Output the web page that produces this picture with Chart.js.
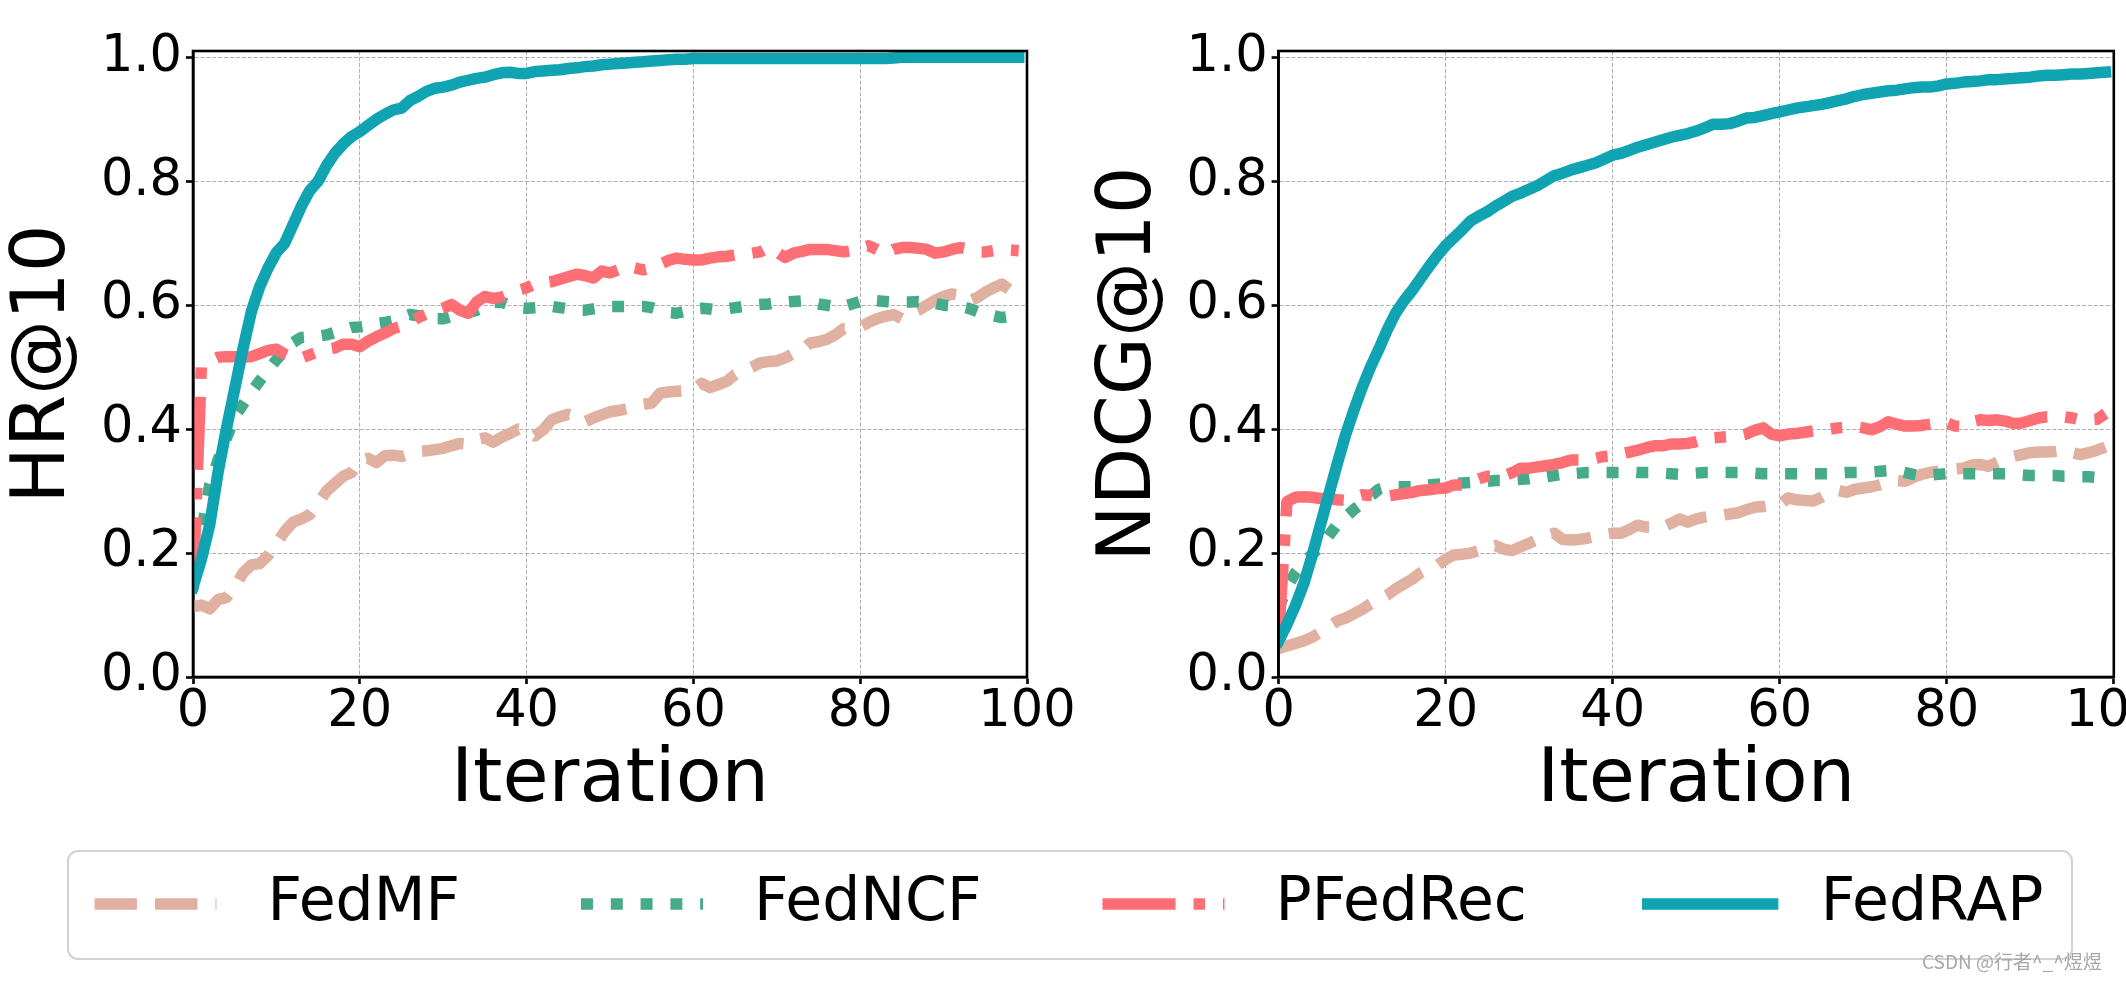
<!DOCTYPE html>
<html>
<head>
<meta charset="utf-8">
<script src="https://cdn.jsdelivr.net/npm/chart.js@4/dist/chart.umd.min.js"></script>
<style>
html, body { margin: 0; padding: 0; width: 2126px; height: 982px; overflow: hidden; background: #ffffff; }
.pane { position: absolute; }
#wm { position: absolute; left: 1922px; top: 948px; font-family: "Noto Sans CJK SC", sans-serif; font-size: 19px; line-height: 26px; color: #a8a8a8; white-space: nowrap; }
</style>
</head>
<body>
<div class="pane" style="left:0px;top:0px;"><canvas id="hrChart" width="1120" height="840"></canvas></div>
<div class="pane" style="left:1063px;top:0px;"><canvas id="ndcgChart" width="1063" height="840"></canvas></div>
<div class="pane" style="left:-96px;top:753px;"><canvas id="legendChart" width="2330" height="700"></canvas></div>
<div id="wm">CSDN @行者^_^煜煜</div>
<script>
// ---------------- data ----------------
const seriesNames = ['FedMF', 'FedNCF', 'PFedRec', 'FedRAP'];
const xTicks = [0, 20, 40, 60, 80, 100];
const yTicks = [0.0, 0.2, 0.4, 0.6, 0.8, 1.0];

const hrFedMF = [
  0.113, 0.116, 0.110, 0.125, 0.128, 0.145, 0.168, 0.181, 0.183, 0.196,
  0.215, 0.235, 0.250, 0.255, 0.262, 0.280, 0.300, 0.312, 0.324, 0.330,
  0.350, 0.353, 0.346, 0.357, 0.358, 0.356, 0.360, 0.364, 0.365, 0.367,
  0.369, 0.373, 0.377, 0.376, 0.383, 0.386, 0.379, 0.387, 0.393, 0.400,
  0.398, 0.389, 0.399, 0.415, 0.420, 0.424, 0.420, 0.412, 0.418, 0.423,
  0.428, 0.430, 0.433, 0.437, 0.440, 0.442, 0.458, 0.460, 0.461, 0.462,
  0.464, 0.474, 0.467, 0.472, 0.477, 0.488, 0.494, 0.500, 0.507, 0.509,
  0.510, 0.515, 0.522, 0.527, 0.539, 0.541, 0.545, 0.552, 0.562, 0.562,
  0.565, 0.572, 0.578, 0.582, 0.585, 0.578, 0.586, 0.592, 0.600, 0.608,
  0.614, 0.618, 0.616, 0.607, 0.612, 0.621, 0.628, 0.634, 0.624, 0.627
];
const hrFedNCF = [
  0.150, 0.230, 0.310, 0.350, 0.385, 0.420, 0.440, 0.460, 0.478, 0.495,
  0.512, 0.527, 0.540, 0.548, 0.549, 0.550, 0.552, 0.556, 0.560, 0.564,
  0.565, 0.567, 0.570, 0.572, 0.575, 0.580, 0.585, 0.583, 0.580, 0.578,
  0.578, 0.582, 0.585, 0.588, 0.592, 0.598, 0.604, 0.605, 0.600, 0.596,
  0.595, 0.596, 0.597, 0.598, 0.596, 0.594, 0.592, 0.592, 0.594, 0.596,
  0.598, 0.598, 0.598, 0.598, 0.598, 0.596, 0.592, 0.588, 0.587, 0.590,
  0.594, 0.595, 0.594, 0.592, 0.594, 0.596, 0.598, 0.600, 0.601, 0.602,
  0.604, 0.605, 0.606, 0.607, 0.605, 0.602, 0.600, 0.598, 0.598, 0.602,
  0.606, 0.608, 0.607, 0.606, 0.605, 0.605, 0.605, 0.606, 0.605, 0.603,
  0.600, 0.599, 0.598, 0.595, 0.590, 0.585, 0.583, 0.580, 0.582, 0.583
];
const hrPFedRec = [
  0.140, 0.500, 0.510, 0.516, 0.517, 0.517, 0.516, 0.517, 0.522, 0.527,
  0.529, 0.521, 0.515, 0.515, 0.520, 0.525, 0.529, 0.531, 0.537, 0.537,
  0.533, 0.542, 0.549, 0.555, 0.562, 0.566, 0.572, 0.580, 0.586, 0.590,
  0.595, 0.601, 0.592, 0.587, 0.605, 0.614, 0.611, 0.613, 0.618, 0.624,
  0.628, 0.634, 0.636, 0.638, 0.642, 0.646, 0.650, 0.648, 0.644, 0.655,
  0.652, 0.657, 0.663, 0.660, 0.657, 0.660, 0.666, 0.672, 0.676, 0.674,
  0.673, 0.673, 0.676, 0.678, 0.679, 0.681, 0.683, 0.684, 0.686, 0.693,
  0.686, 0.677, 0.684, 0.687, 0.690, 0.690, 0.690, 0.688, 0.686, 0.688,
  0.692, 0.696, 0.690, 0.683, 0.690, 0.693, 0.693, 0.692, 0.690, 0.684,
  0.686, 0.690, 0.693, 0.690, 0.686, 0.686, 0.688, 0.690, 0.689, 0.688
];
const hrFedRAP = [
  0.145, 0.190, 0.245, 0.330, 0.400, 0.465, 0.530, 0.590, 0.630, 0.660,
  0.685, 0.700, 0.730, 0.760, 0.785, 0.800, 0.825, 0.845, 0.860, 0.872,
  0.880, 0.890, 0.900, 0.908, 0.915, 0.918, 0.930, 0.937, 0.945, 0.950,
  0.952, 0.955, 0.960, 0.963, 0.966, 0.968, 0.972, 0.975, 0.976, 0.974,
  0.974, 0.977, 0.978, 0.979, 0.980, 0.982, 0.983, 0.985, 0.986, 0.988,
  0.989, 0.990, 0.991, 0.992, 0.993, 0.994, 0.995, 0.996, 0.997, 0.997,
  0.998, 0.998, 0.998, 0.998, 0.998, 0.998, 0.998, 0.998, 0.998, 0.998,
  0.998, 0.998, 0.998, 0.998, 0.998, 0.998, 0.998, 0.998, 0.998, 0.998,
  0.998, 0.998, 0.998, 0.998, 0.999, 1.000, 1.000, 1.000, 1.000, 1.000,
  1.000, 1.000, 1.000, 1.000, 1.000, 1.000, 1.000, 1.000, 1.000, 1.000
];

const ndcgFedMF = [
  0.046, 0.050, 0.054, 0.058, 0.064, 0.072, 0.082, 0.090, 0.095, 0.102,
  0.109, 0.118, 0.125, 0.132, 0.142, 0.150, 0.158, 0.168, 0.175, 0.180,
  0.190, 0.197, 0.198, 0.200, 0.204, 0.208, 0.212, 0.206, 0.204, 0.210,
  0.216, 0.222, 0.228, 0.232, 0.222, 0.221, 0.222, 0.224, 0.227, 0.230,
  0.232, 0.232, 0.238, 0.245, 0.242, 0.242, 0.242, 0.248, 0.255, 0.250,
  0.255, 0.258, 0.260, 0.261, 0.263, 0.265, 0.270, 0.274, 0.275, 0.277,
  0.278, 0.289, 0.286, 0.285, 0.284, 0.290, 0.297, 0.301, 0.298, 0.303,
  0.305, 0.307, 0.310, 0.314, 0.317, 0.316, 0.322, 0.327, 0.330, 0.332,
  0.334, 0.336, 0.337, 0.342, 0.343, 0.340, 0.346, 0.352, 0.356, 0.359,
  0.362, 0.363, 0.363, 0.364, 0.366, 0.362, 0.359, 0.362, 0.366, 0.371
];
const ndcgFedNCF = [
  0.110, 0.145, 0.168, 0.185, 0.198, 0.210, 0.228, 0.246, 0.258, 0.270,
  0.280, 0.292, 0.303, 0.307, 0.307, 0.307, 0.307, 0.308, 0.310, 0.311,
  0.312, 0.312, 0.313, 0.314, 0.315, 0.316, 0.317, 0.317, 0.318, 0.319,
  0.320, 0.322, 0.323, 0.325, 0.327, 0.328, 0.329, 0.330, 0.330, 0.330,
  0.330, 0.330, 0.331, 0.330, 0.330, 0.330, 0.329, 0.328, 0.327, 0.328,
  0.329, 0.330, 0.330, 0.330, 0.330, 0.330, 0.330, 0.329, 0.328, 0.328,
  0.328, 0.328, 0.328, 0.328, 0.328, 0.328, 0.328, 0.329, 0.330, 0.330,
  0.330, 0.331, 0.332, 0.333, 0.333, 0.330, 0.327, 0.325, 0.326, 0.327,
  0.328, 0.328, 0.328, 0.328, 0.328, 0.328, 0.328, 0.328, 0.327, 0.326,
  0.325, 0.325, 0.325, 0.325, 0.324, 0.324, 0.323, 0.323, 0.322, 0.322
];
const ndcgPFedRec = [
  0.065, 0.283, 0.290, 0.291, 0.290, 0.288, 0.288, 0.286, 0.285, 0.290,
  0.294, 0.293, 0.290, 0.292, 0.294, 0.296, 0.298, 0.301, 0.302, 0.304,
  0.305, 0.310, 0.310, 0.315, 0.320, 0.324, 0.324, 0.325, 0.330, 0.337,
  0.337, 0.339, 0.341, 0.343, 0.346, 0.350, 0.350, 0.352, 0.353, 0.356,
  0.357, 0.360, 0.363, 0.366, 0.370, 0.373, 0.373, 0.376, 0.376, 0.377,
  0.380, 0.384, 0.386, 0.387, 0.388, 0.389, 0.392, 0.398, 0.402, 0.392,
  0.389, 0.392, 0.393, 0.395, 0.397, 0.399, 0.400, 0.402, 0.403, 0.404,
  0.402, 0.399, 0.404, 0.412, 0.408, 0.405, 0.405, 0.406, 0.408, 0.410,
  0.410, 0.405, 0.404, 0.412, 0.415, 0.414, 0.415, 0.413, 0.409, 0.410,
  0.414, 0.418, 0.420, 0.420, 0.420, 0.418, 0.415, 0.415, 0.416, 0.425
];
const ndcgFedRAP = [
  0.058, 0.085, 0.115, 0.150, 0.195, 0.245, 0.294, 0.343, 0.390, 0.430,
  0.467, 0.500, 0.529, 0.560, 0.587, 0.607, 0.624, 0.643, 0.662, 0.680,
  0.696, 0.709, 0.722, 0.736, 0.744, 0.751, 0.760, 0.768, 0.776, 0.781,
  0.787, 0.793, 0.801, 0.809, 0.813, 0.818, 0.822, 0.826, 0.830, 0.836,
  0.842, 0.845, 0.850, 0.855, 0.859, 0.863, 0.867, 0.871, 0.874, 0.877,
  0.881, 0.886, 0.892, 0.892, 0.893, 0.897, 0.902, 0.903, 0.906, 0.909,
  0.912, 0.915, 0.918, 0.920, 0.922, 0.924, 0.927, 0.930, 0.933, 0.937,
  0.940, 0.942, 0.944, 0.946, 0.947, 0.949, 0.951, 0.952, 0.952, 0.954,
  0.957, 0.958, 0.960, 0.961, 0.962, 0.964, 0.964, 0.965, 0.966, 0.967,
  0.968, 0.970, 0.971, 0.971, 0.972, 0.973, 0.973, 0.974, 0.975, 0.976
];

const iterations = hrFedMF.map((_, i) => i);

// ---------------- styles ----------------
const seriesColors = ['#E0B0A0', '#45AB8A', '#FD6F75', '#10A3B2'];
const seriesDash = [[42.5, 18], [12, 17.8], [73, 18, 11.5, 18], []];
const seriesCap = ['butt', 'butt', 'butt', 'square'];
const legendDash = [
  [42.5, 18, 42.5, 18, 1, 200],
  [12, 17.8, 12, 17.8, 12, 17.8, 12, 17.8, 2.8, 200],
  [73, 18, 11.5, 18, 1.5, 200],
  [124.8, 200]
];
const LINE_W = 11.5;

Chart.defaults.font.family = 'DejaVu Sans';
Chart.defaults.color = '#000';

const tickFont = { family: 'DejaVu Sans', size: 51, lineHeight: 1 };
const titleFont = { family: 'DejaVu Sans', size: 75, lineHeight: 1.2 };
const legendFontSize = 60;

function buildDatasets(seriesList) {
  return seriesList.map((values, i) => ({
    label: seriesNames[i],
    data: values,
    borderColor: seriesColors[i],
    backgroundColor: seriesColors[i],
    borderWidth: LINE_W,
    borderDash: seriesDash[i],
    borderCapStyle: seriesCap[i],
    borderJoinStyle: 'round',
    pointRadius: 0,
    pointHoverRadius: 0,
    tension: 0,
    fill: false,
    clip: 0,
    order: seriesNames.length - i
  }));
}

const framePlugin = {
  id: 'axesFrame',
  afterDatasetsDraw(chart) {
    const { ctx, chartArea: a } = chart;
    ctx.save();
    ctx.strokeStyle = '#000';
    ctx.lineWidth = 2.6;
    ctx.setLineDash([]);
    ctx.strokeRect(a.left, a.top, a.right - a.left, a.bottom - a.top);
    ctx.restore();
  }
};

function makeOptions(cfg) {
  const gridCfg = { color: '#b0b0b0', lineWidth: 1, tickColor: '#000', tickWidth: 2.6, tickLength: 7, drawTicks: true, drawOnChartArea: true };
  const borderCfg = { display: true, color: '#000', width: 2.6, dash: [4.1, 1.8] };
  return {
    responsive: false,
    animation: false,
    devicePixelRatio: 1,
    events: [],
    layout: { padding: { left: 0, top: 51, right: cfg.padRight, bottom: 13 } },
    plugins: { legend: { display: false }, tooltip: { enabled: false } },
    scales: {
      x: {
        type: 'linear', min: 0, max: 100,
        afterBuildTicks: (s) => { s.ticks = xTicks.map(v => ({ value: v })); },
        afterFit: (s) => { s.height = 150; s.paddingLeft = 0; s.paddingRight = 0; },
        ticks: { font: tickFont, color: '#000', padding: 3, maxRotation: 0, minRotation: 0, autoSkip: false, callback: (v) => String(v) },
        grid: gridCfg,
        border: borderCfg,
        title: { display: true, text: 'Iteration', font: titleFont, color: '#000', padding: { top: 0, bottom: 0 } }
      },
      y: {
        type: 'linear', min: 0, max: 1.0102,
        afterBuildTicks: (s) => { s.ticks = yTicks.map(v => ({ value: v })); },
        afterFit: (s) => { s.width = cfg.yWidth; s.paddingTop = 0; s.paddingBottom = 0; },
        ticks: { font: tickFont, color: '#000', padding: 4, autoSkip: false, callback: (v) => Number(v).toFixed(1) },
        grid: gridCfg,
        border: borderCfg,
        title: { display: true, text: cfg.yLabel, font: titleFont, color: '#000', padding: { top: cfg.titlePad, bottom: 0 } }
      }
    }
  };
}

new Chart(document.getElementById('hrChart'), {
  type: 'line',
  data: { labels: iterations, datasets: buildDatasets([hrFedMF, hrFedNCF, hrPFedRec, hrFedRAP]) },
  options: makeOptions({ yLabel: 'HR@10', yWidth: 193, padRight: 1120 - 1027, titlePad: 0 }),
  plugins: [framePlugin]
});

new Chart(document.getElementById('ndcgChart'), {
  type: 'line',
  data: { labels: iterations, datasets: buildDatasets([ndcgFedMF, ndcgFedNCF, ndcgPFedRec, ndcgFedRAP]) },
  options: makeOptions({ yLabel: 'NDCG@10', yWidth: 215.6, padRight: 1063 - 1050.8, titlePad: 23 }),
  plugins: [framePlugin]
});

// ---------------- legend ----------------
const LEG_LEFT = -96, LEG_TOP = 753;
const legendFramePlugin = {
  id: 'legendFrame',
  beforeDraw(chart) {
    const ctx = chart.ctx;
    const x = 68 - LEG_LEFT, y = 851 - LEG_TOP, w = 2072 - 68, h = 959 - 851, r = 10;
    ctx.save();
    ctx.fillStyle = '#ffffff';
    ctx.strokeStyle = '#d2d2d2';
    ctx.lineWidth = 2;
    ctx.beginPath();
    ctx.roundRect(x, y, w, h, r);
    ctx.fill();
    ctx.stroke();
    ctx.restore();
  }
};

new Chart(document.getElementById('legendChart'), {
  type: 'line',
  data: {
    labels: [],
    datasets: seriesNames.map((n, i) => ({ label: n, data: [], borderColor: seriesColors[i], backgroundColor: seriesColors[i], borderWidth: LINE_W, borderDash: seriesDash[i] }))
  },
  options: {
    responsive: false,
    animation: false,
    devicePixelRatio: 1,
    events: [],
    layout: { padding: 0 },
    scales: { x: { display: false }, y: { display: false } },
    plugins: {
      tooltip: { enabled: false },
      legend: {
        display: true,
        position: 'top',
        align: 'center',
        maxHeight: 500,
        labels: {
          usePointStyle: true,
          pointStyle: 'line',
          pointStyleWidth: 143,
          boxHeight: legendFontSize,
          padding: 121,
          color: '#000',
          font: { family: 'DejaVu Sans', size: legendFontSize },
          generateLabels: () => seriesNames.map((n, i) => ({
            text: n,
            fillStyle: seriesColors[i],
            strokeStyle: seriesColors[i],
            fontColor: '#000',
            lineWidth: LINE_W,
            lineDash: legendDash[i],
            lineDashOffset: 0,
            lineCap: seriesCap[i],
            lineJoin: 'miter',
            pointStyle: 'line',
            rotation: 0,
            hidden: false,
            datasetIndex: i
          }))
        }
      }
    }
  },
  plugins: [legendFramePlugin]
});
</script>
</body>
</html>
